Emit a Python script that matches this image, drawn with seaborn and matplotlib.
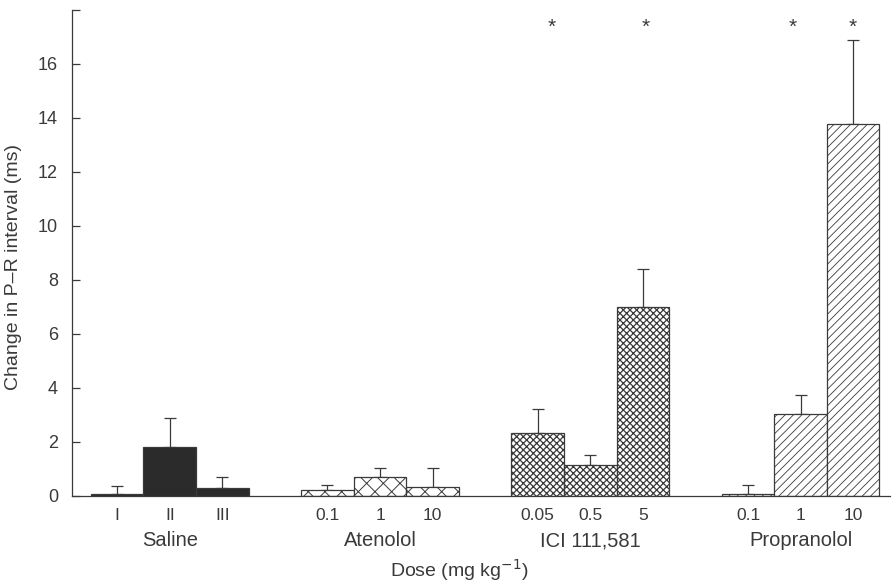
import matplotlib
matplotlib.use("Agg")
import matplotlib.pyplot as plt
import numpy as np
import pandas as pd
import seaborn as sns

# data
groups = ["Saline", "Atenolol", "ICI 111,581", "Propranolol"]
dose_labels = [["I", "II", "III"],
               ["0.1", "1", "10"],
               ["0.05", "0.5", "5"],
               ["0.1", "1", "10"]]
means = [[0.06, 1.78, 0.28],
         [0.22, 0.70, 0.30],
         [2.30, 1.12, 7.00],
         [0.05, 3.03, 13.75]]
sems = [[0.28, 1.10, 0.42],
        [0.17, 0.32, 0.72],
        [0.90, 0.40, 1.40],
        [0.35, 0.70, 3.12]]
# significant bars (group, dose index)
stars = [(2, 0), (2, 2), (3, 1), (3, 2)]

# styling per group
faces = ["#2b2b2b", "white", "white", "white"]
hatches = [None, "xx", "xxxxx", "////"]
ink = "#3a3a3a"

rows = []
for g, name in enumerate(groups):
    for d, lab in enumerate(dose_labels[g]):
        rows.append({"pos": g * 4 + d, "group": name, "dose": lab,
                     "mean": means[g][d], "sem": sems[g][d], "gi": g})
df = pd.DataFrame(rows)

plt.rcParams["hatch.linewidth"] = 0.8
sns.set_style("ticks")
plt.rcParams["font.family"] = ["Liberation Sans", "DejaVu Sans"]

fig = plt.figure(figsize=(8.92, 5.83), dpi=100)
ax = fig.add_axes([0.0807, 0.150, 0.917, 0.8337])

sns.barplot(data=df, x="pos", y="mean", native_scale=True, width=1.0,
            color="white", errorbar=None, ax=ax, zorder=2)

for patch, gi in zip(ax.patches, df["gi"]):
    patch.set_facecolor(faces[gi])
    patch.set_edgecolor(ink)
    patch.set_linewidth(0.9)
    if hatches[gi]:
        patch.set_hatch(hatches[gi])
        if hasattr(patch, "set_hatch_linewidth"):
            patch.set_hatch_linewidth({1: 0.7, 2: 0.9, 3: 0.6}[gi])

ax.errorbar(df["pos"], df["mean"], yerr=[np.zeros(len(df)), df["sem"]],
            fmt="none", ecolor=ink, elinewidth=0.9, capsize=4, capthick=0.9,
            zorder=1)

star_dx = [0.27, 0.06, -0.15, 0.0]
for (g, d), dx in zip(stars, star_dx):
    ax.text(g * 4 + d + dx, 17.35, "*", ha="center", va="center",
            fontsize=15, color=ink)

ax.set_xlim(-0.86, 14.7)
ax.set_ylim(0, 18)
ax.set_yticks(range(0, 19, 2))
ax.set_yticklabels([str(v) for v in range(0, 17, 2)] + [""])
ax.set_xticks(df["pos"])
ax.set_xticklabels(df["dose"])
ax.tick_params(axis="y", direction="in", length=6, width=0.9, color=ink,
               labelsize=13, labelcolor=ink, pad=10)
ax.tick_params(axis="x", length=0, labelsize=12.5, labelcolor=ink, pad=9)
sns.despine(ax=ax)
for s in ["left", "bottom"]:
    ax.spines[s].set_color(ink)
    ax.spines[s].set_linewidth(0.9)

ax.set_xlabel("")
ax.set_ylabel("Change in P\u2013R interval (ms)", fontsize=14, color=ink)
ax.yaxis.set_label_coords(-0.061, 0.47)

for g, name in enumerate(groups):
    ax.annotate(name, xy=(g * 4 + 1, 0), xycoords=("data", "axes fraction"),
                xytext=(0, -32.5), textcoords="offset points",
                ha="center", va="center", fontsize=14.5, color=ink)

ax.annotate("Dose (mg kg$^{-1}$)", xy=(6.5, 0),
            xycoords=("data", "axes fraction"), xytext=(0, -53.5),
            textcoords="offset points", ha="center", va="center",
            fontsize=14, color=ink)

fig.savefig("out.png", dpi=100)
